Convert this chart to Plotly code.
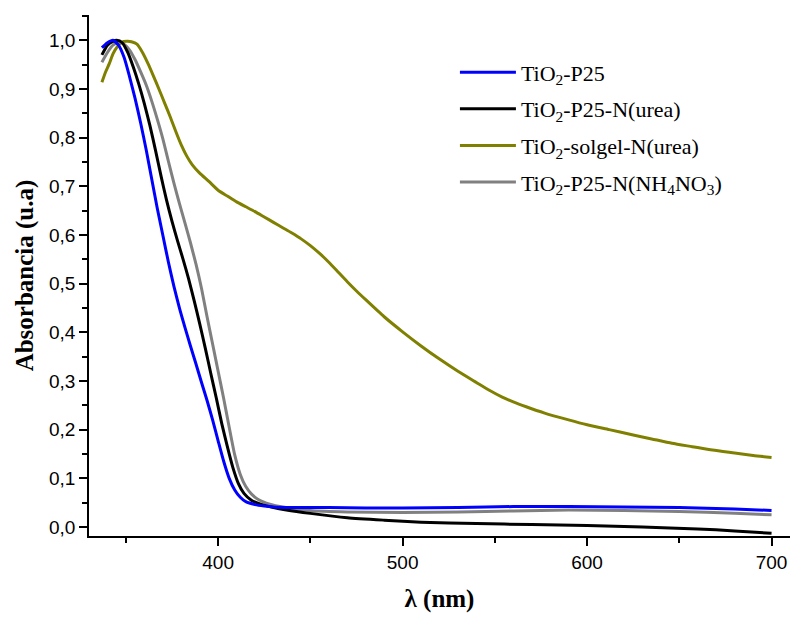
import plotly.graph_objects as go

# ---------------- data ----------------
wl_p25 = [337, 340, 343, 346, 349, 352, 355, 358, 361, 364, 367, 370, 373, 376, 379, 382, 385, 388,
          391, 394, 397, 400, 403, 406, 409, 412, 415, 420, 425, 430, 440, 460, 480, 500, 530, 560,
          590, 620, 650, 680, 700]
abs_p25 = [0.985, 0.995, 1.0, 0.99, 0.965, 0.925, 0.88, 0.83, 0.775, 0.715, 0.655, 0.60, 0.545, 0.495,
           0.45, 0.41, 0.372, 0.335, 0.297, 0.26, 0.22, 0.177, 0.135, 0.10, 0.076, 0.061, 0.052, 0.046,
           0.043, 0.041, 0.040, 0.040, 0.039, 0.039, 0.040, 0.042, 0.042, 0.041, 0.040, 0.037, 0.034]

wl_urea = [337, 340, 343, 345, 348, 351, 354, 357, 360, 363, 366, 369, 372, 375, 378, 381, 384, 387,
           390, 393, 396, 399, 402, 405, 408, 411, 414, 418, 423, 430, 437, 450, 470, 490, 510, 540,
           570, 600, 630, 660, 680, 700]
abs_urea = [0.97, 0.99, 0.998, 1.0, 0.995, 0.975, 0.945, 0.91, 0.87, 0.825, 0.775, 0.722, 0.672, 0.628,
            0.588, 0.55, 0.51, 0.465, 0.418, 0.368, 0.316, 0.265, 0.212, 0.165, 0.122, 0.089, 0.069, 0.055,
            0.047, 0.040, 0.035, 0.028, 0.019, 0.014, 0.010, 0.007, 0.005, 0.003, 0.0, -0.004, -0.008,
            -0.013]

wl_solgel = [337, 339, 341, 343, 345, 348, 351, 353, 356, 359, 362, 365, 368, 371, 374, 377, 380, 383,
             386, 390, 395, 400, 405, 410, 415, 420, 425, 430, 435, 440, 445, 450, 455, 460, 465, 470,
             475, 480, 490, 500, 510, 520, 530, 540, 547, 554, 560, 567, 577, 590, 600, 612, 625, 635,
             646, 657, 668, 680, 690, 700]
abs_solgel = [0.914, 0.935, 0.952, 0.972, 0.985, 0.997, 0.998, 0.997, 0.992, 0.975, 0.952, 0.926, 0.899,
              0.871, 0.843, 0.813, 0.785, 0.762, 0.744, 0.727, 0.71, 0.692, 0.68, 0.668, 0.658, 0.648,
              0.637, 0.626, 0.615, 0.604, 0.592, 0.578, 0.562, 0.544, 0.524, 0.504, 0.485, 0.467, 0.432,
              0.401, 0.372, 0.345, 0.320, 0.297, 0.281, 0.267, 0.257, 0.247, 0.234, 0.220, 0.210, 0.200,
              0.189, 0.181, 0.172, 0.165, 0.158, 0.152, 0.147, 0.143]

wl_nh4 = [337, 340, 343, 346, 349, 352, 355, 358, 361, 364, 367, 370, 373, 376, 379, 382, 385, 388,
          391, 394, 397, 400, 403, 406, 409, 412, 415, 418, 422, 428, 435, 450, 470, 500, 530, 560, 590,
          620, 650, 680, 700]
abs_nh4 = [0.955, 0.975, 0.99, 0.995, 0.992, 0.98, 0.96, 0.935, 0.908, 0.875, 0.838, 0.798, 0.752, 0.707,
           0.665, 0.625, 0.584, 0.54, 0.49, 0.432, 0.376, 0.32, 0.264, 0.205, 0.148, 0.108, 0.083, 0.068,
           0.056, 0.047, 0.041, 0.034, 0.031, 0.030, 0.031, 0.033, 0.035, 0.034, 0.032, 0.028, 0.025]

series_names = ["TiO<sub>2</sub>-P25",
                "TiO<sub>2</sub>-P25-N(urea)",
                "TiO<sub>2</sub>-solgel-N(urea)",
                "TiO<sub>2</sub>-P25-N(NH<sub>4</sub>NO<sub>3</sub>)"]
series_colors = ["#0000FF", "#000000", "#808000", "#808080"]

x_ticks = [400, 500, 600, 700]
y_ticks = [0.0, 0.1, 0.2, 0.3, 0.4, 0.5, 0.6, 0.7, 0.8, 0.9, 1.0]

# ---------------- figure ----------------
fig = go.Figure()
data = [(wl_p25, abs_p25), (wl_urea, abs_urea), (wl_solgel, abs_solgel), (wl_nh4, abs_nh4)]
draw_order = [2, 3, 1, 0]
for i in draw_order:
    xs, ys = data[i]
    fig.add_trace(go.Scatter(x=xs, y=ys, mode="lines", name=series_names[i],
                             line=dict(color=series_colors[i], width=3, shape="spline", smoothing=0.6),
                             legendrank=i + 1, legendgroup=str(i)))

axis_font = dict(family="Liberation Sans, Arial", size=19, color="#000000")
title_font = dict(family="Liberation Serif, Times New Roman", size=25, color="#000000", weight="bold")

fig.update_layout(
    width=791, height=617,
    margin=dict(l=89, r=1, t=15, b=81),
    paper_bgcolor="white", plot_bgcolor="white",
    separators=",.",
    showlegend=True,
    legend=dict(x=0.522, y=0.93, xanchor="left", yanchor="top",
                font=dict(family="Liberation Serif, Times New Roman", size=22, color="#000000"),
                bgcolor="rgba(0,0,0,0)", tracegroupgap=5, itemwidth=56),
)

fig.update_xaxes(range=[330, 710], tickvals=x_ticks, ticks="outside", ticklen=8, tickwidth=1.5,
                 tickcolor="#000000", showline=True, linecolor="#000000", linewidth=1.5,
                 showgrid=False, zeroline=False, tickfont=axis_font,
                 minor=dict(dtick=50, tick0=350, ticks="outside", ticklen=5, tickwidth=1.5,
                            tickcolor="#000000", showgrid=False),
                 title=dict(text="λ (nm)", font=title_font, standoff=18))
fig.update_yaxes(range=[-0.0185, 1.052], tickvals=y_ticks, tickformat=".1f", ticks="outside",
                 ticklen=8, tickwidth=1.5, tickcolor="#000000", showline=True, linecolor="#000000",
                 linewidth=1.5, showgrid=False, zeroline=False, tickfont=axis_font,
                 minor=dict(dtick=0.05, tick0=0.05, ticks="outside", ticklen=5, tickwidth=1.5,
                            tickcolor="#000000", showgrid=False),
                 title=dict(text="Absorbancia (u.a)", font=dict(family="Liberation Serif, Times New Roman",
                            size=25, color="#000000", weight="bold"), standoff=8))

fig.write_html("out.html")
